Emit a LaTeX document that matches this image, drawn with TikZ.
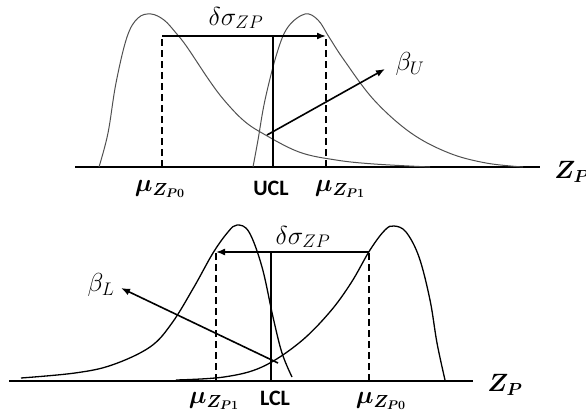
\documentclass[tikz,border=0pt]{standalone}
\usepackage{fix-cm}
\usepackage{amsmath,bm}
\usepackage{fontspec}
\setsansfont{Carlito}
\usetikzlibrary{arrows.meta}
\definecolor{curvegrey}{RGB}{80,80,80}

\begin{document}
\begin{tikzpicture}[x=1pt, y=-1pt, >={Latex[length=9pt,width=7pt]},
    axisline/.style={line width=2pt},
    meanline/.style={line width=1.5pt, dash pattern=on 7pt off 4pt},
    shiftarrow/.style={->, line width=1.6pt},
    mathlbl/.style={font=\fontsize{26}{30}\selectfont, inner sep=0pt},
    meanlbl/.style={font=\fontsize{25}{28}\selectfont, inner sep=0pt},
    limlbl/.style={font=\fontsize{22}{24}\sffamily\bfseries, inner sep=0pt}]
    \useasboundingbox (0,0) rectangle (586,412);

    % upper chart
    \coordinate (ua) at (75,167);
    \coordinate (ub) at (540,167);
    \draw[axisline] (ua) -- (ub);
    \node[meanlbl] (zpu) at (572,172) {$\bm{Z_P}$};
    \draw[curvegrey, line width=1pt] plot[smooth, tension=0.6] coordinates {
      (99,167) (108,133) (116,83) (127,37) (138,18) (151,14) (164,20) (176,33)
      (187,47) (209,80) (224,100) (243,120) (262,133) (299,152) (336,160)
      (374,164) (430,167)
    };
    \draw[curvegrey, line width=1pt] plot[smooth, tension=0.6] coordinates {
      (253,167) (258,140) (265,100) (277,53) (288,27) (305,14) (318,20)
      (329,37) (344,60) (374,100) (411,133) (449,153) (486,163) (523,167)
    };
    \coordinate (m0u) at (162,167);
    \coordinate (m0ut) at (162,36);
    \coordinate (m1u) at (326,167);
    \coordinate (m1ut) at (326,36);
    \coordinate (uclb) at (273,167);
    \coordinate (uclt) at (273,36);
    \draw[meanline] (m0u) -- (m0ut);
    \draw[meanline] (m1u) -- (m1ut);
    \draw[line width=1.6pt] (uclb) -- (uclt);
    \draw[shiftarrow] (m0ut) -- (m1ut);
    \node[mathlbl] (shiftu) at (236,18) {$\delta\sigma_{ZP}$};
    \coordinate (betaus) at (267,135);
    \coordinate (betaue) at (385,69);
    \draw[shiftarrow] (betaus) -- (betaue);
    \node[mathlbl] (betau) at (410,64) {$\beta_U$};
    \node[meanlbl] (mu0u) at (160,189) {$\bm{\mu_{Z_{P0}}}$};
    \node[limlbl] (ucl) at (271,188) {UCL};
    \node[meanlbl] (mu1u) at (340,189) {$\bm{\mu_{Z_{P1}}}$};

    % lower chart
    \coordinate (la) at (9,381);
    \coordinate (lb) at (473,381);
    \draw[axisline] (la) -- (lb);
    \node[meanlbl] (zpl) at (505,385) {$\bm{Z_P}$};
    \draw[line width=1.3pt] plot[smooth, tension=0.6] coordinates {
      (21,378) (75,373) (112,365) (150,347) (172,323) (194,287) (213,253)
      (228,232) (237,225) (249,232) (262,267) (273,317) (282,353) (292,377)
    };
    \draw[line width=1.3pt] plot[smooth, tension=0.6] coordinates {
      (176,380) (224,377) (262,367) (299,343) (329,313) (351,283) (370,250)
      (385,230) (394,226) (406,232) (419,257) (430,300) (437,343) (445,380)
    };
    \coordinate (m1l) at (216,381);
    \coordinate (m1lt) at (216,252);
    \coordinate (m0l) at (369,381);
    \coordinate (m0lt) at (369,252);
    \coordinate (lclb) at (271,381);
    \coordinate (lclt) at (271,252);
    \draw[meanline] (m1l) -- (m1lt);
    \draw[meanline] (m0l) -- (m0lt);
    \draw[line width=1.6pt] (lclb) -- (lclt);
    \draw[shiftarrow] (m0lt) -- (m1lt);
    \node[mathlbl] (shiftl) at (303,237) {$\delta\sigma_{ZP}$};
    \coordinate (betals) at (278,363);
    \coordinate (betale) at (121,288);
    \draw[shiftarrow] (betals) -- (betale);
    \node[mathlbl] (betal) at (101,285) {$\beta_L$};
    \node[meanlbl] (mu1l) at (214,401) {$\bm{\mu_{Z_{P1}}}$};
    \node[limlbl] (lcl) at (275,398) {LCL};
    \node[meanlbl] (mu0l) at (381,401) {$\bm{\mu_{Z_{P0}}}$};
\end{tikzpicture}
\end{document}
